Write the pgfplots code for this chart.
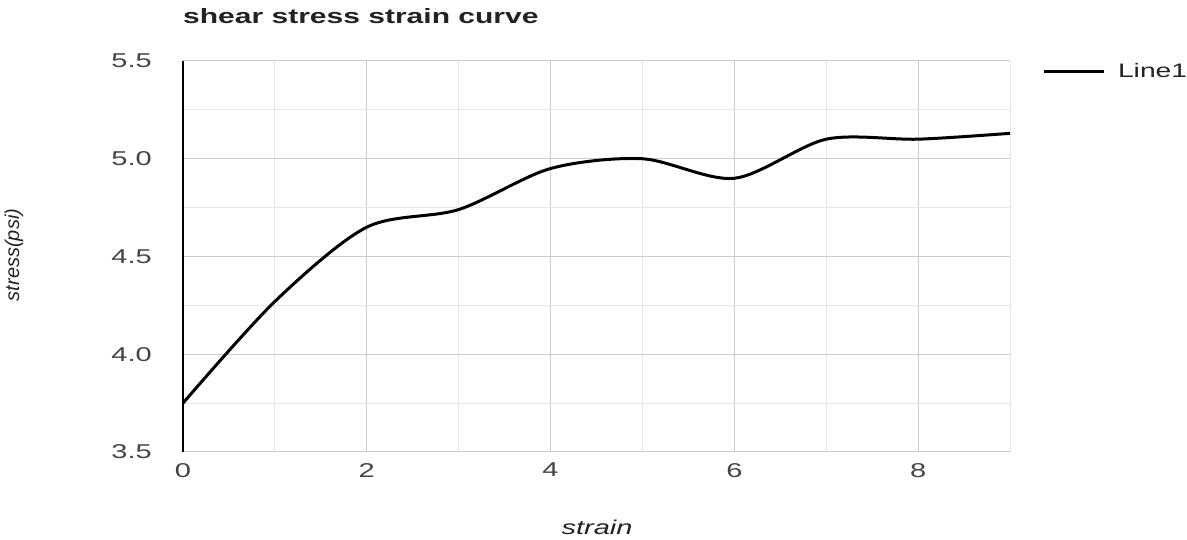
\documentclass[border=0pt]{standalone}
\usepackage{pgfplots}
\pgfplotsset{compat=1.18}
\usepackage{fontspec}
\setmainfont{Liberation Sans}[FakeStretch=1.45]
\newfontfamily\rotfont{Liberation Sans}
\definecolor{tickgray}{HTML}{444444}
\definecolor{txt}{HTML}{222222}
\definecolor{majgrid}{HTML}{CCCCCC}
\definecolor{mingrid}{HTML}{E6E6E6}
\begin{document}
\begin{tikzpicture}
\useasboundingbox (0,0) rectangle (1187pt,540pt);
\begin{axis}[
  at={(183pt,88pt)}, anchor=south west,
  width=827pt, height=391pt, scale only axis,
  xmin=0, xmax=9, ymin=3.5, ymax=5.5,
  xtick={0,2,4,6,8}, minor xtick={1,3,5,7,9},
  ytick={3.5,4,4.5,5,5.5}, minor ytick={3.75,4.25,4.75,5.25},
  grid=both,
  major grid style={majgrid, line width=1pt},
  minor grid style={mingrid, line width=1pt},
  axis line style={draw=none}, tick style={draw=none},
  /pgf/number format/assume math mode=true,
  tick label style={font=\fontsize{20}{24}\selectfont, text=tickgray, inner sep=0pt},
  yticklabel style={anchor=east, xshift=-31pt, /pgf/number format/.cd, fixed, fixed zerofill, precision=1},
  xticklabel style={anchor=north, yshift=-11pt},
  clip=false,
  legend style={at={(1.0387,0.974)}, anchor=west, draw=none, fill=none,
    inner sep=0pt, outer sep=0pt, font=\fontsize{19.5}{23}\selectfont,
    nodes={inner sep=0pt, text=txt}, /tikz/column sep=13pt},
  legend image code/.code={\draw[line width=3pt,black] (0pt,0pt) -- (60pt,0pt);},
]
\draw[black, line width=2pt] (axis cs:0,3.5) -- (axis cs:0,5.5);
\addplot[line width=3pt, color=black, smooth, tension=0.5] coordinates {
  (0,3.75) (1,4.27) (2,4.65) (3,4.74) (4,4.95) (5,5.0) (6,4.9) (7,5.1) (8,5.1) (9,5.13)
};
\addlegendentry{Line1}
\end{axis}
\node[anchor=base west, font=\fontsize{20.7}{24}\selectfont\bfseries, text=txt, inner sep=0pt] at (183pt,516pt) {shear stress strain curve};
\node[anchor=base, font=\fontsize{20}{24}\selectfont\itshape, text=txt, inner sep=0pt] at (597pt,5pt) {strain};
\node[rotate=90, anchor=base, font=\rotfont\fontsize{20}{24}\selectfont\itshape, text=txt, inner sep=0pt] at (19pt,285pt) {stress(psi)};
\end{tikzpicture}
\end{document}
